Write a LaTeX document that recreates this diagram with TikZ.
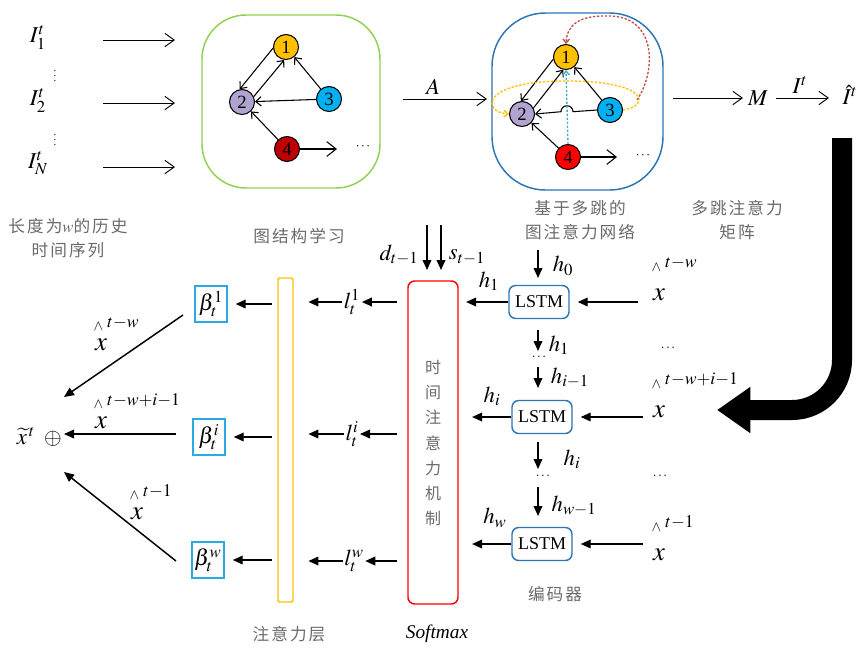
\documentclass[tikz,border=0pt]{standalone}
\usepackage{mathptmx}
\usepackage{fontspec}
\setmainfont{Liberation Serif}
\newfontfamily\cjk[LetterSpace=12]{Noto Sans CJK SC}
\usetikzlibrary{arrows.meta,calc}

\definecolor{nyellow}{HTML}{FFC000}
\definecolor{nlav}{HTML}{B1A3D0}
\definecolor{ncyan}{HTML}{00B0F0}
\definecolor{ndred}{HTML}{C00000}
\definecolor{nred}{HTML}{FF0000}
\definecolor{greenbox}{HTML}{92D050}
\definecolor{boxblue}{HTML}{2E75B6}
\definecolor{betacyan}{HTML}{2AAAE2}
\definecolor{capgray}{HTML}{6A6A6A}
\definecolor{dotred}{HTML}{C0504D}
\definecolor{dotcyan}{HTML}{4BACC6}

\newcommand{\fs}[1]{\fontsize{#1}{#1}\selectfont}
% x with a small wedge and an index set above it (#5: gap above the x)
\newcommand{\hatx}[5]{%
  \node[bigx] (#1) at (#2,#3) {$x$};
  \node[hsup, anchor=south west] (#1s) at ([xshift=-1pt,yshift=#5]#1.north west)
    {$\scriptscriptstyle\wedge$\,\raisebox{2.5pt}{$\scriptstyle #4$}};
}

\tikzset{
  flow/.style={-{Straight Barb[length=7pt,width=10pt]}, line width=0.7pt},
  gedge/.style={-{Straight Barb[length=4pt,width=7pt]}, line width=0.8pt},
  gbig/.style={-{Straight Barb[length=7pt,width=11pt]}, line width=0.8pt},
  barrow/.style={-{Triangle[length=7.5pt,width=6.5pt]}, line width=1.1pt},
  gnode/.style={circle, draw, line width=0.8pt, minimum size=18.75pt, inner sep=0pt, font=\fs{14}},
  dotc/.style={dash pattern=on 1.8pt off 1.2pt, line width=1pt, -{Straight Barb[length=3pt,width=5pt]}},
  mlab/.style={inner sep=0.5pt, font=\fs{17}},
  blab/.style={inner sep=1pt, font=\fs{17}},
  bigx/.style={inner sep=0pt, font=\fs{20}},
  hsup/.style={inner sep=0pt, font=\fs{18}},
  captxt/.style={font=\cjk\fs{12.5}, text=capgray, inner sep=1pt},
  lstm/.style={draw=boxblue, rounded corners=5pt, line width=1.1pt, minimum width=45pt,
    minimum height=24.75pt, inner sep=0pt, font=\fs{13.5}},
  betab/.style={draw=betacyan, line width=1.1pt, minimum width=24pt, minimum height=27pt,
    inner sep=0pt, font=\fs{17}},
  tdots/.style={inner sep=0pt, font=\fs{10}},
}

\begin{document}
\begin{tikzpicture}[x=0.75pt,y=-0.75pt]
\useasboundingbox (0,0) rectangle (862,647);

% ---------- input series ----------
\node[mlab] (I1) at (38,37) {$I_1^t$};
\node[mlab] (I2) at (38,100) {$I_2^t$};
\node[mlab] (IN) at (38,163) {$I_N^t$};
\node[tdots, font=\fs{8}] (vd1) at (55,72) {$\vdots$};
\node[tdots, font=\fs{8}] (vd2) at (55,136) {$\vdots$};
\coordinate (i1a) at (103,40);  \coordinate (i1b) at (175,40);
\coordinate (i2a) at (103,103); \coordinate (i2b) at (175,103);
\coordinate (i3a) at (103,167); \coordinate (i3b) at (175,167);
\draw[flow] (i1a) -- (i1b);
\draw[flow] (i2a) -- (i2b);
\draw[flow] (i3a) -- (i3b);
\node[captxt] (c1a) at (68,226) {长度为$w$的历史};
\node[captxt] (c1b) at (68,250) {时间序列};

% ---------- graph structure learning ----------
\node[draw=greenbox, line width=1.1pt, rounded corners=33pt, minimum width=133.5pt,
      minimum height=129.75pt] (G) at (291,101.5) {};
\node[gnode, fill=nyellow] (a1) at (286,47) {1};
\node[gnode, fill=nlav] (a2) at (242,102) {2};
\node[gnode, fill=ncyan] (a3) at (329,99) {3};
\node[gnode, fill=ndred] (a4) at (287,149) {4};
\draw[gedge] (a1.185) -- (a2.100);
\draw[gedge] (a2.25) -- (a1.262);
\draw[gedge] (a3) -- (a1);
\draw[gedge] (a3) -- (a2);
\draw[gedge] (a4) -- (a2);
\coordinate (a4e) at (337,149);
\draw[gbig] (a4) -- (a4e);
\node[tdots] (ad) at (363,147) {$\cdots$};
\node[captxt] (c2) at (299,236) {图结构学习};

\coordinate (Aa) at (403,99); \coordinate (Ab) at (487,99);
\draw[flow] (Aa) -- (Ab);
\node[mlab] (Alab) at (433,87) {$A$};

% ---------- multi-hop graph attention ----------
\node[draw=boxblue, line width=1.1pt, rounded corners=40pt, minimum width=128.25pt,
      minimum height=132.75pt] (B) at (577.5,101.5) {};
\node[gnode, fill=nyellow] (b1) at (566,57) {1};
\node[gnode, fill=nlav] (b2) at (522,114) {2};
\node[gnode, fill=ncyan] (b3) at (610,110) {3};
\node[gnode, fill=nred] (b4) at (568,157) {4};
\draw[gedge] (b1.190) -- (b2.95);
\draw[gedge] (b2.28) -- (b1.258);
\draw[gedge] (b3) -- (b1);
\coordinate (hopR) at (573,111.7);
\draw[gedge] (b3.west) -- (hopR) arc[start angle=0, end angle=-180, radius=6] -- (b2.east);
\draw[gedge] (b4) -- (b2);
\coordinate (b4e) at (617,157);
\draw[gbig] (b4) -- (b4e);
\node[tdots] (bd) at (643,156) {$\cdots$};
\draw[dotc, draw=dotcyan] (b4.north) -- (b1.south);
\draw[dotc, draw=nyellow] (b3.east) .. controls (650,106) and (650,81) .. (566,81)
      .. controls (480,81) and (482,112) .. (b2.west);
\coordinate (rs) at (637,100);
\draw[dotc, draw=dotred] (rs) .. controls (657,70) and (656,17) .. (610,16)
      .. controls (580,15) and (567,24) .. (b1.north);
\node[captxt] (c3a) at (580,208) {基于多跳的};
\node[captxt] (c3b) at (580,232) {图注意力网络};

% ---------- multi-hop attention matrix ----------
\coordinate (Ma) at (673,98); \coordinate (Mb) at (743,98);
\draw[flow] (Ma) -- (Mb);
\node[mlab] (M) at (758,98) {$M$};
\coordinate (Ia) at (776,98); \coordinate (Ib) at (829,98);
\draw[flow] (Ia) -- (Ib);
\node[mlab] (Ilab) at (800,85) {$I^t$};
\node[mlab] (Ihat) at (850,95) {$\hat{I}^t$};
\node[captxt] (c4a) at (737,208) {多跳注意力};
\node[captxt] (c4b) at (737,232) {矩阵};

% thick feedback arrow
\coordinate (bigA) at (842,138);
\coordinate (bigB) at (842,360);
\coordinate (bigT) at (717,410);
\draw[line width=15pt, -{Triangle[length=25pt,width=33pt]}]
  (bigA) -- (bigB) arc[start angle=0, end angle=90, radius=50] -- (bigT);

% ---------- encoder ----------
\node[lstm] (L1) at (539,302) {LSTM};
\node[lstm] (L2) at (542,417) {LSTM};
\node[lstm] (L3) at (542,544) {LSTM};
\node[captxt] (c5) at (555,594) {编码器};

\hatx{xr1}{659}{295}{t-w}{13pt}
\hatx{xr2}{659}{412}{t-w+i-1}{13pt}
\hatx{xr3}{659}{555}{t-1}{13pt}
\node[tdots] (rd1) at (668,348) {$\ldots$};
\node[tdots] (rd2) at (660,476) {$\ldots$};

\draw[barrow, shorten <=11pt, shorten >=6pt] (L1 -| xr1.west) -- (L1.east);
\draw[barrow, shorten <=7pt, shorten >=6pt] (L2 -| xr2.west) -- (L2.east);
\draw[barrow, shorten <=7pt, shorten >=6pt] (L3 -| xr3.west) -- (L3.east);

% hidden state chain
\coordinate (v0a) at (538,250); \coordinate (v0b) at (538,278);
\coordinate (v1a) at (538,330); \coordinate (v1b) at (538,351);
\coordinate (v2a) at (538,367); \coordinate (v2b) at (538,388);
\coordinate (v3a) at (538,442); \coordinate (v3b) at (538,469);
\coordinate (v4a) at (538,487); \coordinate (v4b) at (538,516);
\draw[barrow] (v0a) -- (v0b);
\draw[barrow] (v1a) -- (v1b);
\draw[barrow] (v2a) -- (v2b);
\draw[barrow] (v3a) -- (v3b);
\draw[barrow] (v4a) -- (v4b);
\node[tdots] (cd1) at (539,357) {$\ldots$};
\node[tdots] (cd2) at (543,476) {$\ldots$};
\node[blab] (h0) at (563,266) {$h_0$};
\node[blab] (h1b) at (559,345) {$h_1$};
\node[blab] (him) at (570,378) {$h_{i-1}$};
\node[blab] (hib) at (572,459) {$h_i$};
\node[blab] (hwm) at (574,506) {$h_{w-1}$};

% ---------- temporal attention ----------
\node[draw=nred, line width=1.1pt, rounded corners=5pt, minimum width=37.5pt,
      minimum height=242.25pt] (tatt) at (433,442.5) {};
\node[captxt, align=center, font=\cjk\fontsize{12}{18.9}\selectfont] (tattx) at (433,443)
  {时\\间\\注\\意\\力\\机\\制};
\node[inner sep=1pt, font=\itshape\fs{14.5}] (soft) at (437,634) {Softmax};

\coordinate (da) at (427,225); \coordinate (db) at (427,270);
\coordinate (sa) at (441,225); \coordinate (sb) at (441,270);
\draw[barrow] (da) -- (db);
\draw[barrow] (sa) -- (sb);
\node[blab] (dlab) at (399,255) {$d_{t-1}$};
\node[blab] (slab) at (467,257) {$s_{t-1}$};

\draw[barrow, shorten >=5.5pt] (L1.west) -- (L1 -| tatt.east);
\draw[barrow, shorten >=10pt] (L2.west) -- (L2 -| tatt.east);
\draw[barrow, shorten >=10pt] (L3.west) -- (L3 -| tatt.east);
\node[blab] (h1l) at (489,281) {$h_1$};
\node[blab] (hil) at (492,396) {$h_i$};
\node[blab] (hwl) at (495,518) {$h_w$};

% ---------- attention layer ----------
\node[blab] (l1) at (352,302) {$l_t^1$};
\node[blab] (li) at (352,434) {$l_t^i$};
\node[blab] (lw) at (354,561) {$l_t^w$};
\draw[barrow, shorten <=7.5pt] (tatt.west |- l1) -- (l1.east);
\draw[barrow, shorten <=7.5pt] (tatt.west |- li) -- (li.east);
\draw[barrow, shorten <=7.5pt] (tatt.west |- lw) -- (lw.east);

\node[draw=nyellow, line width=1.1pt, rounded corners=1.5pt, minimum width=11.25pt,
      minimum height=243pt, inner sep=0pt] (yel) at (285.5,440) {};
\node[captxt] (c6) at (289,634) {注意力层};
\draw[barrow, shorten >=11pt] (l1.west) -- (l1 -| yel.east);
\draw[barrow, shorten >=11pt] (li.west) -- (li -| yel.east);
\draw[barrow, shorten >=11pt] (lw.west) -- (lw -| yel.east);

\node[betab] (bt1) at (211,304) {$\beta_t^1$};
\node[betab] (bt2) at (209,437) {$\beta_t^i$};
\node[betab] (bt3) at (208,560) {$\beta_t^w$};
\draw[barrow, shorten <=4pt, shorten >=6pt] (yel.west |- bt1) -- (bt1.east);
\draw[barrow, shorten <=4pt, shorten >=6pt] (yel.west |- bt2) -- (bt2.east);
\draw[barrow, shorten <=4pt, shorten >=6pt] (yel.west |- bt3) -- (bt3.east);

% ---------- weighted sum ----------
\node[blab, inner sep=0pt] (xt) at (26,436) {$\widetilde{x}^{\,t}$};
\node[blab, inner sep=0pt] (op) at (53,439) {$\oplus$};
\coordinate (s1) at (183,315); \coordinate (e1) at (64,397);
\coordinate (s2) at (176,434); \coordinate (e2) at (64,434);
\coordinate (s3) at (176,561); \coordinate (e3) at (64,472);
\draw[barrow] (s1) -- (e1);
\draw[barrow] (s2) -- (e2);
\draw[barrow] (s3) -- (e3);
\hatx{xl1}{101}{345}{t-w}{6pt}
\hatx{xl2}{101}{423}{t-w+i-1}{6pt}
\hatx{xl3}{137}{514}{t-1}{6pt}
\end{tikzpicture}
\end{document}
